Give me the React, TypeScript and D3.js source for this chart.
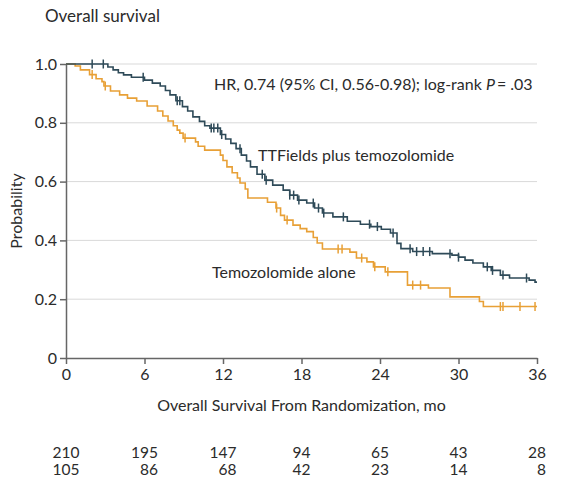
import * as d3 from "d3";
import { useEffect, useRef } from "react";

// Kaplan-Meier steps: time (months) and survival probability after each step
const ttTimes = [0, 3.2, 3.6, 4.0, 4.4, 5.0, 6.0, 6.6, 7.2, 7.6, 7.95, 8.4, 8.9, 9.3, 9.7, 10.2, 10.6, 11.0, 11.8, 12.2, 12.6, 13.0, 13.4, 13.8, 14.1, 14.6, 15.2, 15.8, 16.6, 17.1, 17.7, 18.4, 19.0, 19.6, 20.4, 21.5, 22.5, 23.3, 24.1, 24.8, 25.3, 25.6, 26.5, 28.0, 29.5, 30.0, 30.5, 31.1, 31.9, 32.5, 33.2, 33.9, 35.4, 35.85];
const ttSurv = [1, 0.99, 0.98, 0.97, 0.963, 0.955, 0.945, 0.935, 0.925, 0.91, 0.895, 0.875, 0.855, 0.84, 0.82, 0.805, 0.79, 0.782, 0.76, 0.745, 0.73, 0.712, 0.69, 0.67, 0.65, 0.625, 0.605, 0.588, 0.571, 0.554, 0.537, 0.527, 0.51, 0.493, 0.48, 0.465, 0.455, 0.447, 0.438, 0.425, 0.39, 0.372, 0.362, 0.355, 0.35, 0.343, 0.333, 0.323, 0.31, 0.298, 0.282, 0.272, 0.265, 0.258];
const ttCensored = [2.0, 2.85, 5.9, 8.5, 8.7, 11.1, 11.3, 11.6, 11.9, 13.3, 15.0, 15.3, 17.1, 17.4, 17.8, 18.9, 19.3, 19.7, 21.2, 23.2, 23.8, 25.0, 26.3, 26.8, 27.3, 27.8, 29.35, 30.0, 32.2, 32.6, 33.4, 35.2];

const tmzTimes = [0, 0.7, 1.1, 1.8, 2.3, 2.75, 2.9, 3.4, 4.1, 4.7, 5.4, 6.2, 7.0, 7.4, 7.8, 8.2, 8.5, 8.7, 8.95, 9.9, 10.1, 10.6, 11.8, 12.0, 12.3, 12.7, 13.1, 13.3, 13.7, 13.9, 15.4, 16.05, 16.4, 16.7, 17.35, 17.9, 18.4, 18.9, 19.2, 19.6, 21.7, 22.2, 23.0, 23.5, 24.4, 26.1, 27.7, 29.35, 31.6, 31.9];
const tmzSurv = [1, 0.993, 0.98, 0.964, 0.95, 0.94, 0.925, 0.908, 0.895, 0.884, 0.874, 0.857, 0.84, 0.823, 0.806, 0.79, 0.775, 0.765, 0.748, 0.735, 0.72, 0.707, 0.69, 0.672, 0.65, 0.63, 0.612, 0.595, 0.575, 0.544, 0.53, 0.51, 0.485, 0.469, 0.452, 0.44, 0.43, 0.41, 0.391, 0.371, 0.36, 0.34, 0.327, 0.31, 0.293, 0.248, 0.238, 0.208, 0.192, 0.175];
const tmzCensored = [2.0, 3.0, 9.1, 16.1, 16.9, 20.8, 21.1, 22.6, 23.6, 24.6, 26.5, 27.1, 33.2, 33.4, 34.7, 35.85];

const xTicks = [0, 6, 12, 18, 24, 30, 36];
const yTicks = [0, 0.2, 0.4, 0.6, 0.8, 1.0];
const atRiskTT = [210, 195, 147, 94, 65, 43, 28];
const atRiskTmz = [105, 86, 68, 42, 23, 14, 8];

const W = 570;
const H = 500;
const FONT = "Lato, 'Liberation Sans', sans-serif";
const TEXT = "#2b2b2b";
const TT_COLOR = "#2e4a58";
const TMZ_COLOR = "#e8a036";

function survAt(times: number[], surv: number[], t: number) {
  let s = surv[0];
  for (let i = 0; i < times.length; i++) {
    if (times[i] <= t) s = surv[i];
  }
  return s;
}

export default function App() {
  const ref = useRef<SVGSVGElement | null>(null);

  useEffect(() => {
    const el = ref.current;
    if (!el) return;
    const svg = d3.select(el);
    svg.selectAll("*").remove();

    const margin = { top: 64, right: 33, bottom: 142, left: 66 };
    const x = d3.scaleLinear().domain([0, 36]).range([margin.left, W - margin.right]);
    const y = d3.scaleLinear().domain([0, 1]).range([H - margin.bottom, margin.top]);

    svg.append("rect").attr("width", W).attr("height", H).attr("fill", "#fff");

    // grid
    svg
      .append("g")
      .selectAll("line")
      .data(yTicks.filter((v) => v > 0))
      .enter()
      .append("line")
      .attr("x1", x(0))
      .attr("x2", x(36))
      .attr("y1", (d) => y(d))
      .attr("y2", (d) => y(d))
      .attr("stroke", "#d9d9d9")
      .attr("stroke-width", 1);

    // axes
    svg
      .append("g")
      .attr("transform", `translate(${x(0)},0)`)
      .call(
        d3
          .axisLeft(y)
          .tickValues(yTicks)
          .tickSize(6)
          .tickSizeOuter(0)
          .tickPadding(3)
          .tickFormat((d) => (d === 0 ? "0" : d3.format(".1f")(d as number)))
      )
      .call((g) => g.selectAll("path,line").attr("stroke", "#666").attr("stroke-width", 1.5))
      .call((g) => g.selectAll("text").attr("fill", TEXT).attr("font-size", 16).attr("font-family", FONT));

    svg
      .append("g")
      .attr("transform", `translate(0,${y(0)})`)
      .call(d3.axisBottom(x).tickValues(xTicks).tickSize(6).tickSizeOuter(0).tickPadding(5))
      .call((g) => g.selectAll("path,line").attr("stroke", "#666").attr("stroke-width", 1.5))
      .call((g) => g.selectAll("text").attr("fill", TEXT).attr("font-size", 16).attr("font-family", FONT));

    // survival curves
    const series = [
      { times: ttTimes, surv: ttSurv, cens: ttCensored, color: TT_COLOR },
      { times: tmzTimes, surv: tmzSurv, cens: tmzCensored, color: TMZ_COLOR },
    ];
    const line = d3
      .line<[number, number]>()
      .x((d) => x(d[0]))
      .y((d) => y(d[1]))
      .curve(d3.curveStepAfter);

    for (const s of series.slice().reverse()) {
      const pts: [number, number][] = s.times.map((t, i) => [t, s.surv[i]]);
      pts.push([36, s.surv[s.surv.length - 1]]);
      svg
        .append("path")
        .attr("d", line(pts) ?? "")
        .attr("fill", "none")
        .attr("stroke", s.color)
        .attr("stroke-width", 1.6);

      svg
        .append("g")
        .selectAll("line")
        .data(s.cens)
        .enter()
        .append("line")
        .attr("x1", (t) => x(t))
        .attr("x2", (t) => x(t))
        .attr("y1", (t) => y(survAt(s.times, s.surv, t)) - 4.5)
        .attr("y2", (t) => y(survAt(s.times, s.surv, t)) + 4.5)
        .attr("stroke", s.color)
        .attr("stroke-width", 1.5);
    }

    // labels
    const label = (tx: number, ty: number, txt: string, size = 16, anchor = "start") =>
      svg
        .append("text")
        .attr("x", tx)
        .attr("y", ty)
        .attr("text-anchor", anchor)
        .attr("fill", TEXT)
        .attr("font-size", size)
        .attr("font-family", FONT)
        .text(txt);

    label(45, 22, "Overall survival", 17);

    const hr = label(214, 90, "HR, 0.74 (95% CI, 0.56-0.98); log-rank ", 16);
    hr.append("tspan").attr("font-style", "italic").text("P");
    hr.append("tspan").text("\u2009= .03");

    label(258, 161, "TTFields plus temozolomide", 16);
    label(212, 278, "Temozolomide alone", 16);

    svg
      .append("text")
      .attr("transform", `translate(22,${y(0.5)}) rotate(-90)`)
      .attr("text-anchor", "middle")
      .attr("fill", TEXT)
      .attr("font-size", 16)
      .attr("font-family", FONT)
      .text("Probability");

    label((x(0) + x(36)) / 2, 411, "Overall Survival From Randomization, mo", 16, "middle");

    // number at risk, right-aligned per column and centred on the tick
    const rows = [
      { vals: atRiskTT, yy: 458 },
      { vals: atRiskTmz, yy: 475 },
    ];
    xTicks.forEach((t, i) => {
      const nodes = rows.map((r) => label(x(t), r.yy, String(r.vals[i]), 15.5, "end"));
      const widths = nodes.map((n) => (n.node() as SVGTextElement).getComputedTextLength());
      const maxW = Math.max(...widths);
      nodes.forEach((n) => n.attr("x", x(t) + maxW / 2));
    });
  }, []);

  return (
    <svg
      ref={ref}
      width={W}
      height={H}
      style={{ position: "absolute", left: 0, top: 0, display: "block" }}
    />
  );
}
